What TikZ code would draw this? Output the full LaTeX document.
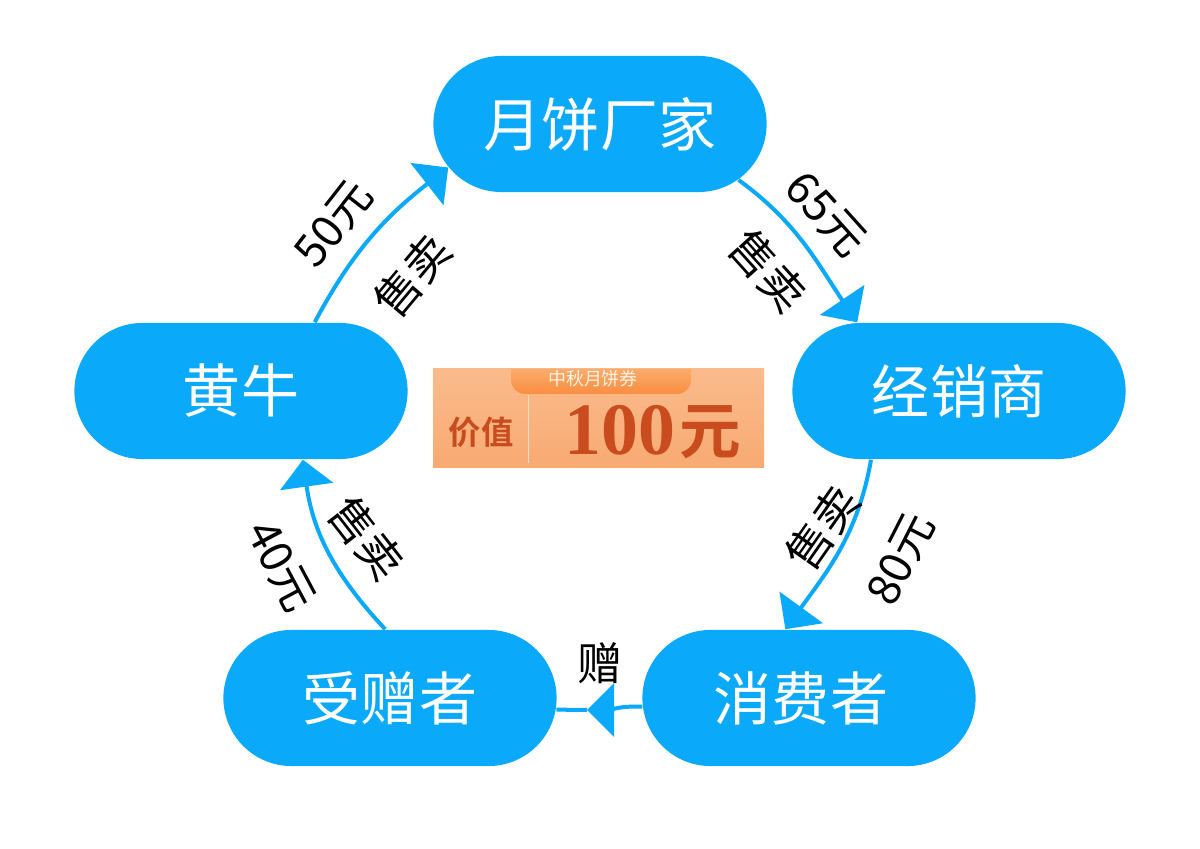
\documentclass[tikz,border=0pt]{standalone}
\usepackage{fontspec}
\newfontfamily\cjk{Noto Sans CJK SC}
\newfontfamily\cjkb{Noto Sans CJK SC Bold}
\newfontfamily\numb{Liberation Serif}
\usetikzlibrary{arrows.meta,shapes.misc}
\definecolor{pillblue}{HTML}{0BA9FA}
\definecolor{redbrown}{HTML}{C94C1E}
\definecolor{cardtop}{HTML}{FABB8C}
\definecolor{cardbot}{HTML}{F8AA72}
\definecolor{tabtop}{HTML}{F9AC6C}
\definecolor{tabbot}{HTML}{FB8D40}
\definecolor{paleline}{HTML}{FBDCC4}
\tikzset{
  pill/.style={rounded rectangle, fill=pillblue, text=white, minimum width=3.33cm, minimum height=1.36cm, inner sep=0pt, font=\cjk\fontsize{16.5}{18}\selectfont},
  flowline/.style={draw=pillblue, line width=0.04cm},
  flow/.style={flowline, -{Triangle[length=0.27cm,width=0.53cm,fill=pillblue]}},
  tag/.style={font=\cjk\fontsize{12.8}{14}\selectfont, inner sep=0pt}
}
\begin{document}
\begin{tikzpicture}[x=0.01cm,y=-0.01cm]

      \fill[white] (0,0) rectangle (1200,849);

      \node[pill] (factory) at (600,124) {月饼厂家};
      \node[pill] (dealer) at (959,391) {经销商};
      \node[pill] (scalper) at (241,391) {黄牛};
      \node[pill] (consumer) at (809,698) {消费者\kern0.16cm};
      \node[pill] (receiver) at (390,698) {受赠者};
      \coordinate (giftpoint) at (587,710);

      \draw[flow] (factory.-22) to[out=-36,in=124] (dealer.146);
      \draw[flow] (dealer.-142) to[out=-100,in=54] (consumer.109);
      \draw[flow] (consumer.183) to[out=177,in=0] (giftpoint);
      \draw[flowline] (giftpoint) -- (receiver.-4);
      \draw[flow] (receiver.94) to[out=133,in=-82] (scalper.-48);
      \draw[flow] (scalper.43) to[out=62,in=218] (factory.196);

      \node[tag, rotate=-48] (price65) at (826,214) {65元};
      \node[tag, rotate=-48] (sell1) at (768,271) {售卖};
      \node[tag, rotate=63] (price80) at (901,559) {80元};
      \node[tag, rotate=55] (sell2) at (822,528) {售卖};
      \node[tag] (gift) at (600,663) {赠};
      \node[tag, rotate=-62] (price40) at (281,566) {40元};
      \node[tag, rotate=-52] (sell3) at (367,538) {售卖};
      \node[tag, rotate=52] (price50) at (334,224) {50元};
      \node[tag, rotate=50] (sell4) at (412,276) {售卖};

      % voucher
      \shade[top color=cardtop, bottom color=cardbot] (433,369) rectangle (764,468);
      \shade[top color=tabtop, bottom color=tabbot] (511,369) -- (691,369) -- (691,380) arc[start angle=0, end angle=90, radius=14] -- (525,394) arc[start angle=90, end angle=180, radius=14] -- cycle;
      \draw[paleline, line width=0.01cm] (528,395) -- (528,463);
      \node[font=\cjk\fontsize{5.1}{6}\selectfont, text=white!90!orange, inner sep=0pt] (coupon) at (593,379) {中秋月饼券};
      \node[font=\cjkb\fontsize{9.2}{11}\selectfont, text=redbrown, inner sep=0pt] (worth) at (481,432) {价值};
      \node[font=\numb\bfseries\fontsize{21}{23}\selectfont, text=redbrown, inner sep=0pt] (amount) at (620,430) {100};
      \node[font=\cjkb\fontsize{17.5}{20}\selectfont, text=redbrown, inner sep=0pt] (unit) at (710,432) {元};

    \end{tikzpicture}
\end{document}
